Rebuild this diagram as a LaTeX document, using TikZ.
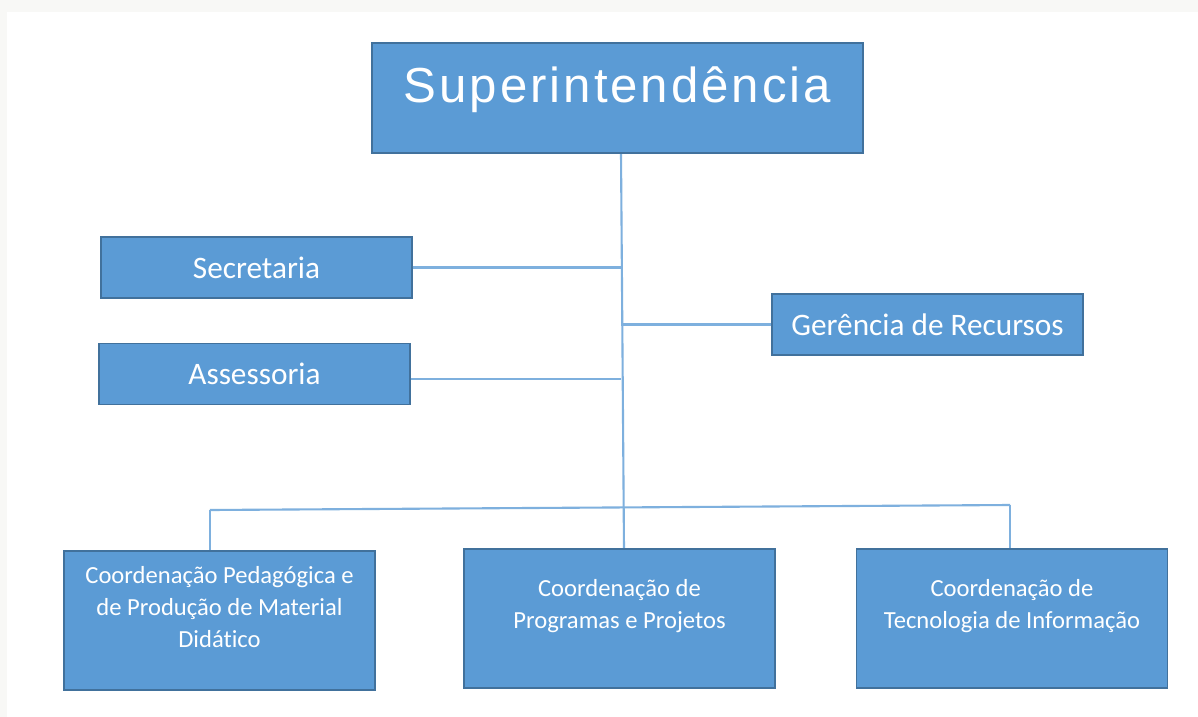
\documentclass[tikz,border=0pt]{standalone}
\usepackage{fontspec}
\setmainfont[Ligatures=NoCommon]{Carlito}
\newfontfamily\titlefont[LetterSpace=6]{Liberation Sans}
\definecolor{boxblue}{HTML}{5B9BD5}
\definecolor{boxedge}{HTML}{41719C}
\definecolor{linkblue}{HTML}{7EB0DE}
\definecolor{paper}{HTML}{F8F8F6}
\tikzset{
  unit/.style={draw=boxedge, line width=0.8pt, fill=boxblue, text=white, minimum width=6.22cm, minimum height=1.22cm, inner sep=0pt, font=\fontsize{17.8}{21}\selectfont},
  lowunit/.style={unit, minimum height=2.78cm, align=center, font=\fontsize{14}{18}\selectfont},
  ramo/.style={draw=linkblue, line width=1.2pt}
}
\begin{document}
\begin{tikzpicture}[x=0.02cm, y=-0.02cm]
\useasboundingbox (0,0) rectangle (1198,717);
\fill[paper] (0,0) rectangle (1198,717);
\fill[white] (7,12) rectangle (1198,717);

\coordinate (ttop) at (621,153);
\coordinate (tbot) at (624,549);
\coordinate (busL) at (210,510);
\coordinate (busR) at (1010,505);

\draw[ramo] (ttop) -- (tbot);
\draw[ramo] (busL) -- (busR);

\node[unit, minimum width=9.82cm, text height=1.18cm, text depth=1.02cm, font=\titlefont\fontsize{28}{30}\selectfont] (sup) at (617.5,98) {Superintendência};
\node[unit] (sec) at (256.5,267.5) {Secretaria};
\node[unit] (ass) at (254.5,374) {Assessoria};
\node[unit] (ger) at (927.5,324.5) {Gerência de Recursos};
\node[lowunit, text height=1.92cm, text depth=0.86cm] (ped) at (219.5,620.5) {Coordenação Pedagógica e\\de Produção de Material\\Didático};
\node[lowunit, text height=1.58cm, text depth=1.2cm] (prog) at (619.5,618.5) {Coordenação de\\Programas e Projetos};
\node[lowunit, text height=1.58cm, text depth=1.2cm] (tec) at (1012,618.5) {Coordenação de\\Tecnologia de Informação};

\draw[ramo] (sec.east) -- (sec.east -| ttop);
\draw[ramo] ([yshift=-0.1cm]ass.east) -- ([yshift=-0.1cm]ass.east -| ttop);
\draw[ramo] (ger.west) -- (ger.west -| ttop);
\draw[ramo] (busL) -- (busL |- ped.north);
\draw[ramo] (busR) -- (busR |- tec.north);
\end{tikzpicture}
\end{document}
